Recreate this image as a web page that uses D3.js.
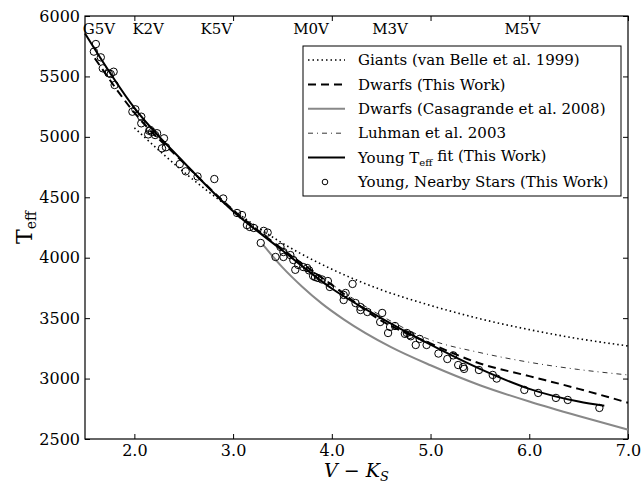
<!DOCTYPE html>
<html>
<head>
<meta charset="utf-8">
<script src="https://cdn.jsdelivr.net/npm/d3@7"></script>
<style>
  body { margin: 0; background: #fff; }
  text { fill: #000; }
</style>
</head>
<body>
<div id="chart"></div>
<script>
// V-K colour vs effective temperature for young stars and dwarf/giant relations

const serif = "'DejaVu Serif', 'Liberation Serif', serif";

// Giants (van Belle et al. 1999)
const giantsVK = [2.0, 2.5, 3.0, 3.5, 4.0, 4.5, 5.0, 5.5, 6.0, 6.5, 7.0];
const giantsTeff = [5075, 4710, 4395, 4120, 3905, 3735, 3605, 3495, 3405, 3330, 3270];

// Dwarfs (This Work)
const dwarfsVK = [1.6, 2.0, 2.5, 3.0, 3.5, 4.0, 4.5, 5.0, 5.5, 6.0, 6.5, 7.0];
const dwarfsTeff = [5650, 5200, 4785, 4395, 4070, 3775, 3480, 3290, 3125, 3020, 2915, 2800];

// Dwarfs (Casagrande et al. 2008)
const casaVK = [3.3, 3.5, 3.7, 3.9, 4.12, 4.6, 5.0, 5.5, 6.0, 6.5, 7.0];
const casaTeff = [4110, 3920, 3760, 3620, 3490, 3260, 3110, 2945, 2810, 2690, 2578];

// Luhman et al. 2003
const luhmanVK = [3.5, 4.0, 4.5, 5.0, 5.5, 6.0, 6.5, 7.0];
const luhmanTeff = [4080, 3780, 3520, 3320, 3215, 3135, 3075, 3030];

// Young Teff fit (This Work)
const fitVK = [1.5, 2.0, 2.5, 3.0, 3.5, 4.0, 4.5, 5.0, 5.5, 6.0, 6.5, 6.76];
const fitTeff = [5856, 5240, 4790, 4385, 4060, 3745, 3500, 3280, 3080, 2915, 2810, 2775];

// Young, Nearby Stars (This Work)
const starsVK = [1.59, 1.61, 1.66, 1.68, 1.74, 1.76, 1.79, 1.80, 1.98, 2.01, 2.07, 2.07,
  2.15, 2.16, 2.18, 2.21, 2.14, 2.23, 2.30, 2.28, 2.32, 2.46, 2.52, 2.64, 2.81, 2.90,
  3.04, 3.09, 3.14, 3.17, 3.21, 3.31, 3.35, 3.28, 3.43, 3.48, 3.51, 3.51, 3.58, 3.61,
  3.63, 3.66, 3.71, 3.75, 3.77, 3.81, 3.83, 3.86, 3.90, 3.96, 3.98, 4.12, 4.12, 4.14,
  4.21, 4.24, 4.29, 4.29, 4.36, 4.51, 4.49, 4.57, 4.59, 4.64, 4.74, 4.76, 4.79, 4.80,
  4.85, 4.89, 4.96, 5.08, 5.17, 5.23, 5.28, 5.33, 5.34, 5.49, 5.63, 5.67, 5.95, 6.09,
  6.27, 6.39, 6.71];
const starsTeff = [5705, 5768, 5658, 5567, 5526, 5520, 5539, 5429, 5208, 5228, 5167, 5112,
  5050, 5057, 5040, 5015, 5020, 5030, 4988, 4905, 4914, 4775, 4715, 4672, 4651, 4490,
  4370, 4353, 4270, 4254, 4246, 4222, 4208, 4122, 4006, 4089, 4047, 4006, 4022, 3981,
  3900, 3940, 3923, 3915, 3895, 3850, 3840, 3832, 3820, 3807, 3758, 3692, 3650, 3708,
  3783, 3625, 3592, 3567, 3551, 3543, 3468, 3377, 3427, 3435, 3370, 3377, 3361, 3350,
  3278, 3328, 3278, 3207, 3162, 3192, 3112, 3096, 3080, 3071, 3030, 3000, 2906, 2881,
  2840, 2823, 2757];

// Spectral types along the top axis
const spTypes = ["G5V", "K2V", "K5V", "M0V", "M3V", "M5V"];
const spVK = [1.64, 2.14, 2.83, 3.79, 4.59, 5.93];

const xTicks = [2, 3, 4, 5, 6, 7];
const yTicks = [2500, 3000, 3500, 4000, 4500, 5000, 5500, 6000];

const legendLabels = [
  "Giants (van Belle et al. 1999)",
  "Dwarfs (This Work)",
  "Dwarfs (Casagrande et al. 2008)",
  "Luhman et al. 2003",
  "Young T|eff| fit (This Work)",
  "Young, Nearby Stars (This Work)"
];

const margin = { top: 16, right: 14, bottom: 44, left: 85 };
const fullW = 642, fullH = 483;
const width = fullW - margin.left - margin.right;
const height = fullH - margin.top - margin.bottom;

var svg = d3.select("#chart")
  .append("svg")
  .attr("width", fullW)
  .attr("height", fullH)
  .style("font-family", serif)
.append("g")
  .attr("transform", `translate(${margin.left},${margin.top})`);

var x = d3.scaleLinear().domain([1.5, 7.0]).range([0, width]);
var y = d3.scaleLinear().domain([2500, 6000]).range([height, 0]);

// Axes, ticks pointing inwards like old matplotlib
svg.append("g")
  .attr("transform", `translate(0,${height})`)
  .call(d3.axisBottom(x).tickValues(xTicks).tickFormat(d3.format(".1f"))
    .tickSizeInner(-5).tickSizeOuter(0).tickPadding(6))
  .call(g => g.selectAll("text").style("font-size", "16px").style("font-family", serif));

svg.append("g")
  .call(d3.axisLeft(y).tickValues(yTicks).tickFormat(d3.format("d"))
    .tickSizeInner(-5).tickSizeOuter(0).tickPadding(5))
  .call(g => g.selectAll("text").style("font-size", "16px").style("font-family", serif));

svg.append("g")
  .call(d3.axisTop(x).tickValues(xTicks).tickFormat("")
    .tickSizeInner(-5).tickSizeOuter(0));

svg.append("g")
  .attr("transform", `translate(${width},0)`)
  .call(d3.axisRight(y).tickValues(yTicks).tickFormat("")
    .tickSizeInner(-5).tickSizeOuter(0));

svg.selectAll(".domain").remove();
svg.selectAll(".tick line").attr("stroke", "#000");

// Frame
svg.append("rect")
  .attr("width", width)
  .attr("height", height)
  .attr("fill", "none")
  .attr("stroke", "#000")
  .attr("stroke-width", 1.2);

// Spectral type labels
svg.selectAll(".sp")
  .data(spTypes)
  .enter()
  .append("text")
    .attr("x", (d, i) => x(spVK[i]))
    .attr("y", 18)
    .attr("text-anchor", "middle")
    .style("font-family", serif)
    .style("font-size", "15px")
    .text(d => d);

var line = d3.line()
  .x(d => x(d[0]))
  .y(d => y(d[1]))
  .curve(d3.curveMonotoneX);

const series = [
  { vk: giantsVK, t: giantsTeff, color: "#000", w: 1.6, dash: "1.5,3" },
  { vk: dwarfsVK, t: dwarfsTeff, color: "#000", w: 2, dash: "8,5" },
  { vk: casaVK, t: casaTeff, color: "#888", w: 2, dash: null },
  { vk: luhmanVK, t: luhmanTeff, color: "#000", w: 0.8, dash: "5,4,1,4" },
  { vk: fitVK, t: fitTeff, color: "#000", w: 2, dash: null }
];

series.forEach(s => {
  svg.append("path")
    .datum(s.vk.map((v, i) => [v, s.t[i]]))
    .attr("d", line)
    .attr("fill", "none")
    .attr("stroke", s.color)
    .attr("stroke-width", s.w)
    .attr("stroke-dasharray", s.dash);
});

// Young stars as open circles
svg.selectAll(".star")
  .data(starsVK.map((v, i) => [v, starsTeff[i]]))
  .enter()
  .append("circle")
    .attr("cx", d => x(d[0]))
    .attr("cy", d => y(d[1]))
    .attr("r", 3.7)
    .attr("fill", "none")
    .attr("stroke", "#000")
    .attr("stroke-width", 1);

// Legend
const lx = 218, ly = 30, rowH = 24.4;
var legend = svg.append("g").attr("transform", `translate(${lx},${ly})`);

legend.append("rect")
  .attr("width", 318)
  .attr("height", 150)
  .attr("fill", "#fff")
  .attr("stroke", "#000")
  .attr("stroke-width", 1);

series.forEach((s, i) => {
  legend.append("line")
    .attr("x1", 5).attr("x2", 42)
    .attr("y1", 14 + i * rowH).attr("y2", 14 + i * rowH)
    .attr("stroke", s.color)
    .attr("stroke-width", s.w)
    .attr("stroke-dasharray", s.dash);
});
legend.append("circle")
  .attr("cx", 22)
  .attr("cy", 14 + 5 * rowH)
  .attr("r", 2.8)
  .attr("fill", "none")
  .attr("stroke", "#000");

legendLabels.forEach((lab, i) => {
  var t = legend.append("text")
    .attr("x", 55)
    .attr("y", 14 + i * rowH)
    .attr("dy", "0.35em")
    .style("font-family", serif)
    .style("font-size", "15px");
  var parts = lab.split("|");
  t.append("tspan").text(parts[0]);
  if (parts.length > 1) {
    t.append("tspan").attr("dy", "0.3em").style("font-size", "10px").text(parts[1]);
    t.append("tspan").attr("dy", "-0.3em").text(parts[2]);
  }
});

// Axis titles
var yl = svg.append("text")
  .attr("transform", `translate(${-53},${height / 2}) rotate(-90)`)
  .attr("text-anchor", "middle")
  .attr("fill", "#000")
  .style("font-family", serif)
  .style("font-size", "22px");
yl.append("tspan").text("T");
yl.append("tspan").attr("dy", "0.3em").style("font-size", "14px").text("eff");

var xl = svg.append("text")
  .attr("x", width / 2)
  .attr("y", height + 38)
  .attr("text-anchor", "middle")
  .style("font-family", serif)
  .style("font-size", "19px");
xl.append("tspan").style("font-style", "italic").text("V");
xl.append("tspan").text(" \u2212 ");
xl.append("tspan").style("font-style", "italic").text("K");
xl.append("tspan").attr("dy", "0.3em").style("font-style", "italic").style("font-size", "13px").text("S");
</script>
</body>
</html>
